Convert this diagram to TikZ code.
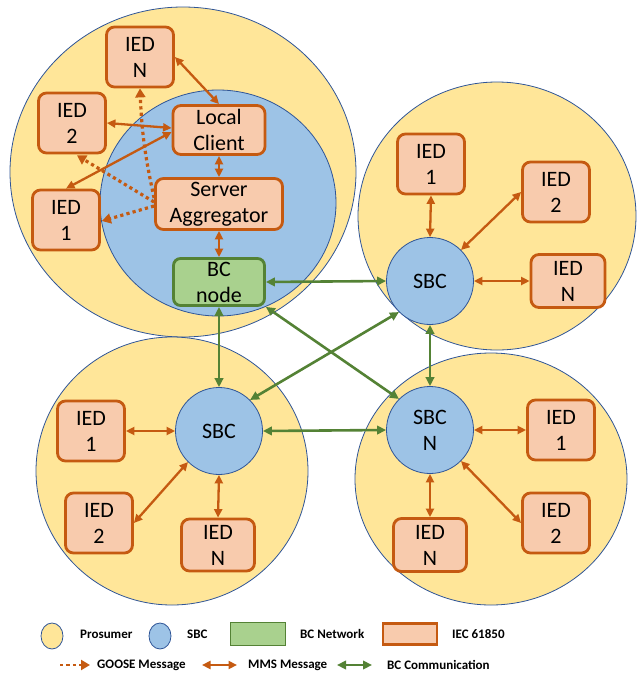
\documentclass[tikz,border=0pt]{standalone}
\usepackage{fontspec}
\setmainfont{Carlito}
\usetikzlibrary{arrows.meta,shapes.geometric,calc}
\definecolor{pyellow}{HTML}{FFE699}
\definecolor{pblue}{HTML}{9DC3E6}
\definecolor{pedge}{HTML}{2F5597}
\definecolor{iedfill}{HTML}{F8CBAD}
\definecolor{iededge}{HTML}{C55A11}
\definecolor{bcfill}{HTML}{A9D18E}
\definecolor{bcedge}{HTML}{548235}
\begin{document}
\begin{tikzpicture}[x=1pt,y=-1pt,
 prosumer/.style={ellipse,fill=pyellow,draw=pedge,line width=0.8pt,inner sep=0pt},
 sbcball/.style={ellipse,fill=pblue,draw=pedge,line width=0.8pt,inner sep=0pt,align=center,font=\fontsize{22}{26}\selectfont},
 iedbox/.style={rectangle,rounded corners=8pt,fill=iedfill,draw=iededge,line width=2.8pt,minimum width=67pt,minimum height=60pt,inner sep=0pt,align=center,font=\fontsize{22}{26}\selectfont},
 bcbox/.style={rectangle,rounded corners=7pt,fill=bcfill,draw=bcedge,line width=2.8pt,minimum width=91pt,minimum height=47pt,inner sep=0pt,align=center,font=\fontsize{22}{26}\selectfont},
 legtext/.style={anchor=west,inner sep=0pt,font=\fontsize{13}{15}\selectfont\bfseries},
 mms/.style={{Triangle[length=8.5pt,width=8pt]}-{Triangle[length=8.5pt,width=8pt]},draw=iededge,line width=2.3pt},
 bcc/.style={{Triangle[length=9pt,width=8.5pt]}-{Triangle[length=9pt,width=8.5pt]},draw=bcedge,line width=2.6pt},
 goose/.style={-{Triangle[length=9pt,width=10pt]},draw=iededge,line width=3.2pt,dash pattern=on 3.2pt off 3.2pt}
]
\useasboundingbox (0,0) rectangle (638,673);

% prosumer areas
\node[prosumer,minimum width=346pt,minimum height=330pt] (p1) at (183,172) {};
\node[prosumer,minimum width=278pt,minimum height=268pt] (p2) at (497,216) {};
\node[prosumer,minimum width=272pt,minimum height=268pt] (p3) at (172,471) {};
\node[prosumer,minimum width=272pt,minimum height=252pt] (p4) at (491,479) {};

% inner SBC area of prosumer 1
\node[sbcball,minimum width=236pt,minimum height=226pt] (sbc1) at (218,203) {};

% top-left nodes
\node[iedbox] (ied1N) at (140,57) {IED\\N};
\node[iedbox] (ied12) at (72,123) {IED\\2};
\node[iedbox] (ied11) at (66,220) {IED\\1};
\node[iedbox,minimum width=92pt,minimum height=49pt] (lc) at (219,130) {Local\\Client};
\node[iedbox,minimum width=127pt,minimum height=51pt] (sa) at (219,204) {Server\\Aggregator};
\node[bcbox] (bcn) at (219,282) {BC\\node};

% top-right
\node[sbcball,minimum size=87pt] (sbcTR) at (430,281) {SBC};
\node[iedbox] (ied21) at (431,164) {IED\\1};
\node[iedbox] (ied22) at (556,192) {IED\\2};
\node[iedbox,minimum width=74pt,minimum height=53pt] (ied2N) at (568,281) {IED\\N};

% bottom-left
\node[sbcball,minimum size=87pt] (sbcBL) at (219,431) {SBC};
\node[iedbox] (ied31) at (91,431) {IED\\1};
\node[iedbox] (ied32) at (99,523) {IED\\2};
\node[iedbox,minimum width=73pt,minimum height=52pt] (ied3N) at (218,545) {IED\\N};

% bottom-right
\node[sbcball,minimum size=87pt] (sbcN) at (430,430) {SBC\\N};
\node[iedbox] (ied41) at (561,430) {IED\\1};
\node[iedbox] (ied42) at (556,523) {IED\\2};
\node[iedbox,minimum width=73pt,minimum height=53pt] (ied4N) at (430,545) {IED\\N};

% MMS top-left
\draw[mms] (ied1N.east) -- (lc.north);
\draw[mms] (ied12.east) -- ($(lc.west)+(0,-2)$);
\draw[mms] (ied11.north) -- ($(lc.west)+(0,2)$);
\draw[mms] (lc.south) -- (sa.north);
\draw[mms] (sa.south) -- (bcn.north);

% GOOSE
\draw[goose] ($(sa.west)+(0,-6)$) to[bend left=5] (ied1N.south);
\draw[goose] ($(sa.west)+(0,-2)$) -- ($(ied12.south)+(5,1)$);
\draw[goose] ($(sa.west)+(0,2)$) -- ($(ied11.east)+(1,1)$);

% MMS others
\draw[mms] (ied21.south) -- (sbcTR.north);
\draw[mms] (ied22.west) -- (sbcTR.45);
\draw[mms] (sbcTR.east) -- (ied2N.west);
\draw[mms] (ied31.east) -- (sbcBL.west);
\draw[mms] (ied32.east) -- (sbcBL.225);
\draw[mms] (sbcBL.south) -- (ied3N.north);
\draw[mms] (sbcN.east) -- (ied41.west);
\draw[mms] (sbcN.315) -- (ied42.west);
\draw[mms] (sbcN.south) -- (ied4N.north);

% BC communication
\draw[bcc] (bcn.east) -- (sbcTR.west);
\draw[bcc] (bcn.south) -- (sbcBL.north);
\draw[bcc] (bcn.south east) -- (sbcN.135);
\draw[bcc] (sbcTR.225) -- (sbcBL.45);
\draw[bcc] (sbcTR.south) -- (sbcN.north);
\draw[bcc] (sbcBL.east) -- (sbcN.west);

% legend row 1
\node[prosumer,minimum width=22pt,minimum height=26pt] (lp) at (52,636) {};
\node[legtext] (lpt) at (80,634) {Prosumer};
\node[sbcball,minimum width=22pt,minimum height=26pt] (ls) at (160,636) {};
\node[legtext] (lst) at (187,634) {SBC};
\node[rectangle,fill=bcfill,draw=bcedge,line width=1.8pt,minimum width=55pt,minimum height=23pt,inner sep=0pt] (lb) at (258,634) {};
\node[legtext] (lbt) at (300,634) {BC Network};
\node[rectangle,fill=iedfill,draw=iededge,line width=2.8pt,minimum width=54pt,minimum height=21pt,inner sep=0pt] (li) at (410,634) {};
\node[legtext] (lit) at (452,634) {IEC 61850};

% legend row 2
\coordinate (g1) at (60,665);
\coordinate (g2) at (90,665);
\draw[goose,line width=2.8pt] (g1) -- (g2);
\node[legtext] (lgt) at (97,665) {GOOSE Message};
\coordinate (m1) at (202,665);
\coordinate (m2) at (237,665);
\draw[mms] (m1) -- (m2);
\node[legtext] (lmt) at (248,665) {MMS Message};
\coordinate (b1) at (337,665);
\coordinate (b2) at (372,665);
\draw[bcc] (b1) -- (b2);
\node[legtext] (lbct) at (387,665) {BC Communication};
\end{tikzpicture}
\end{document}
